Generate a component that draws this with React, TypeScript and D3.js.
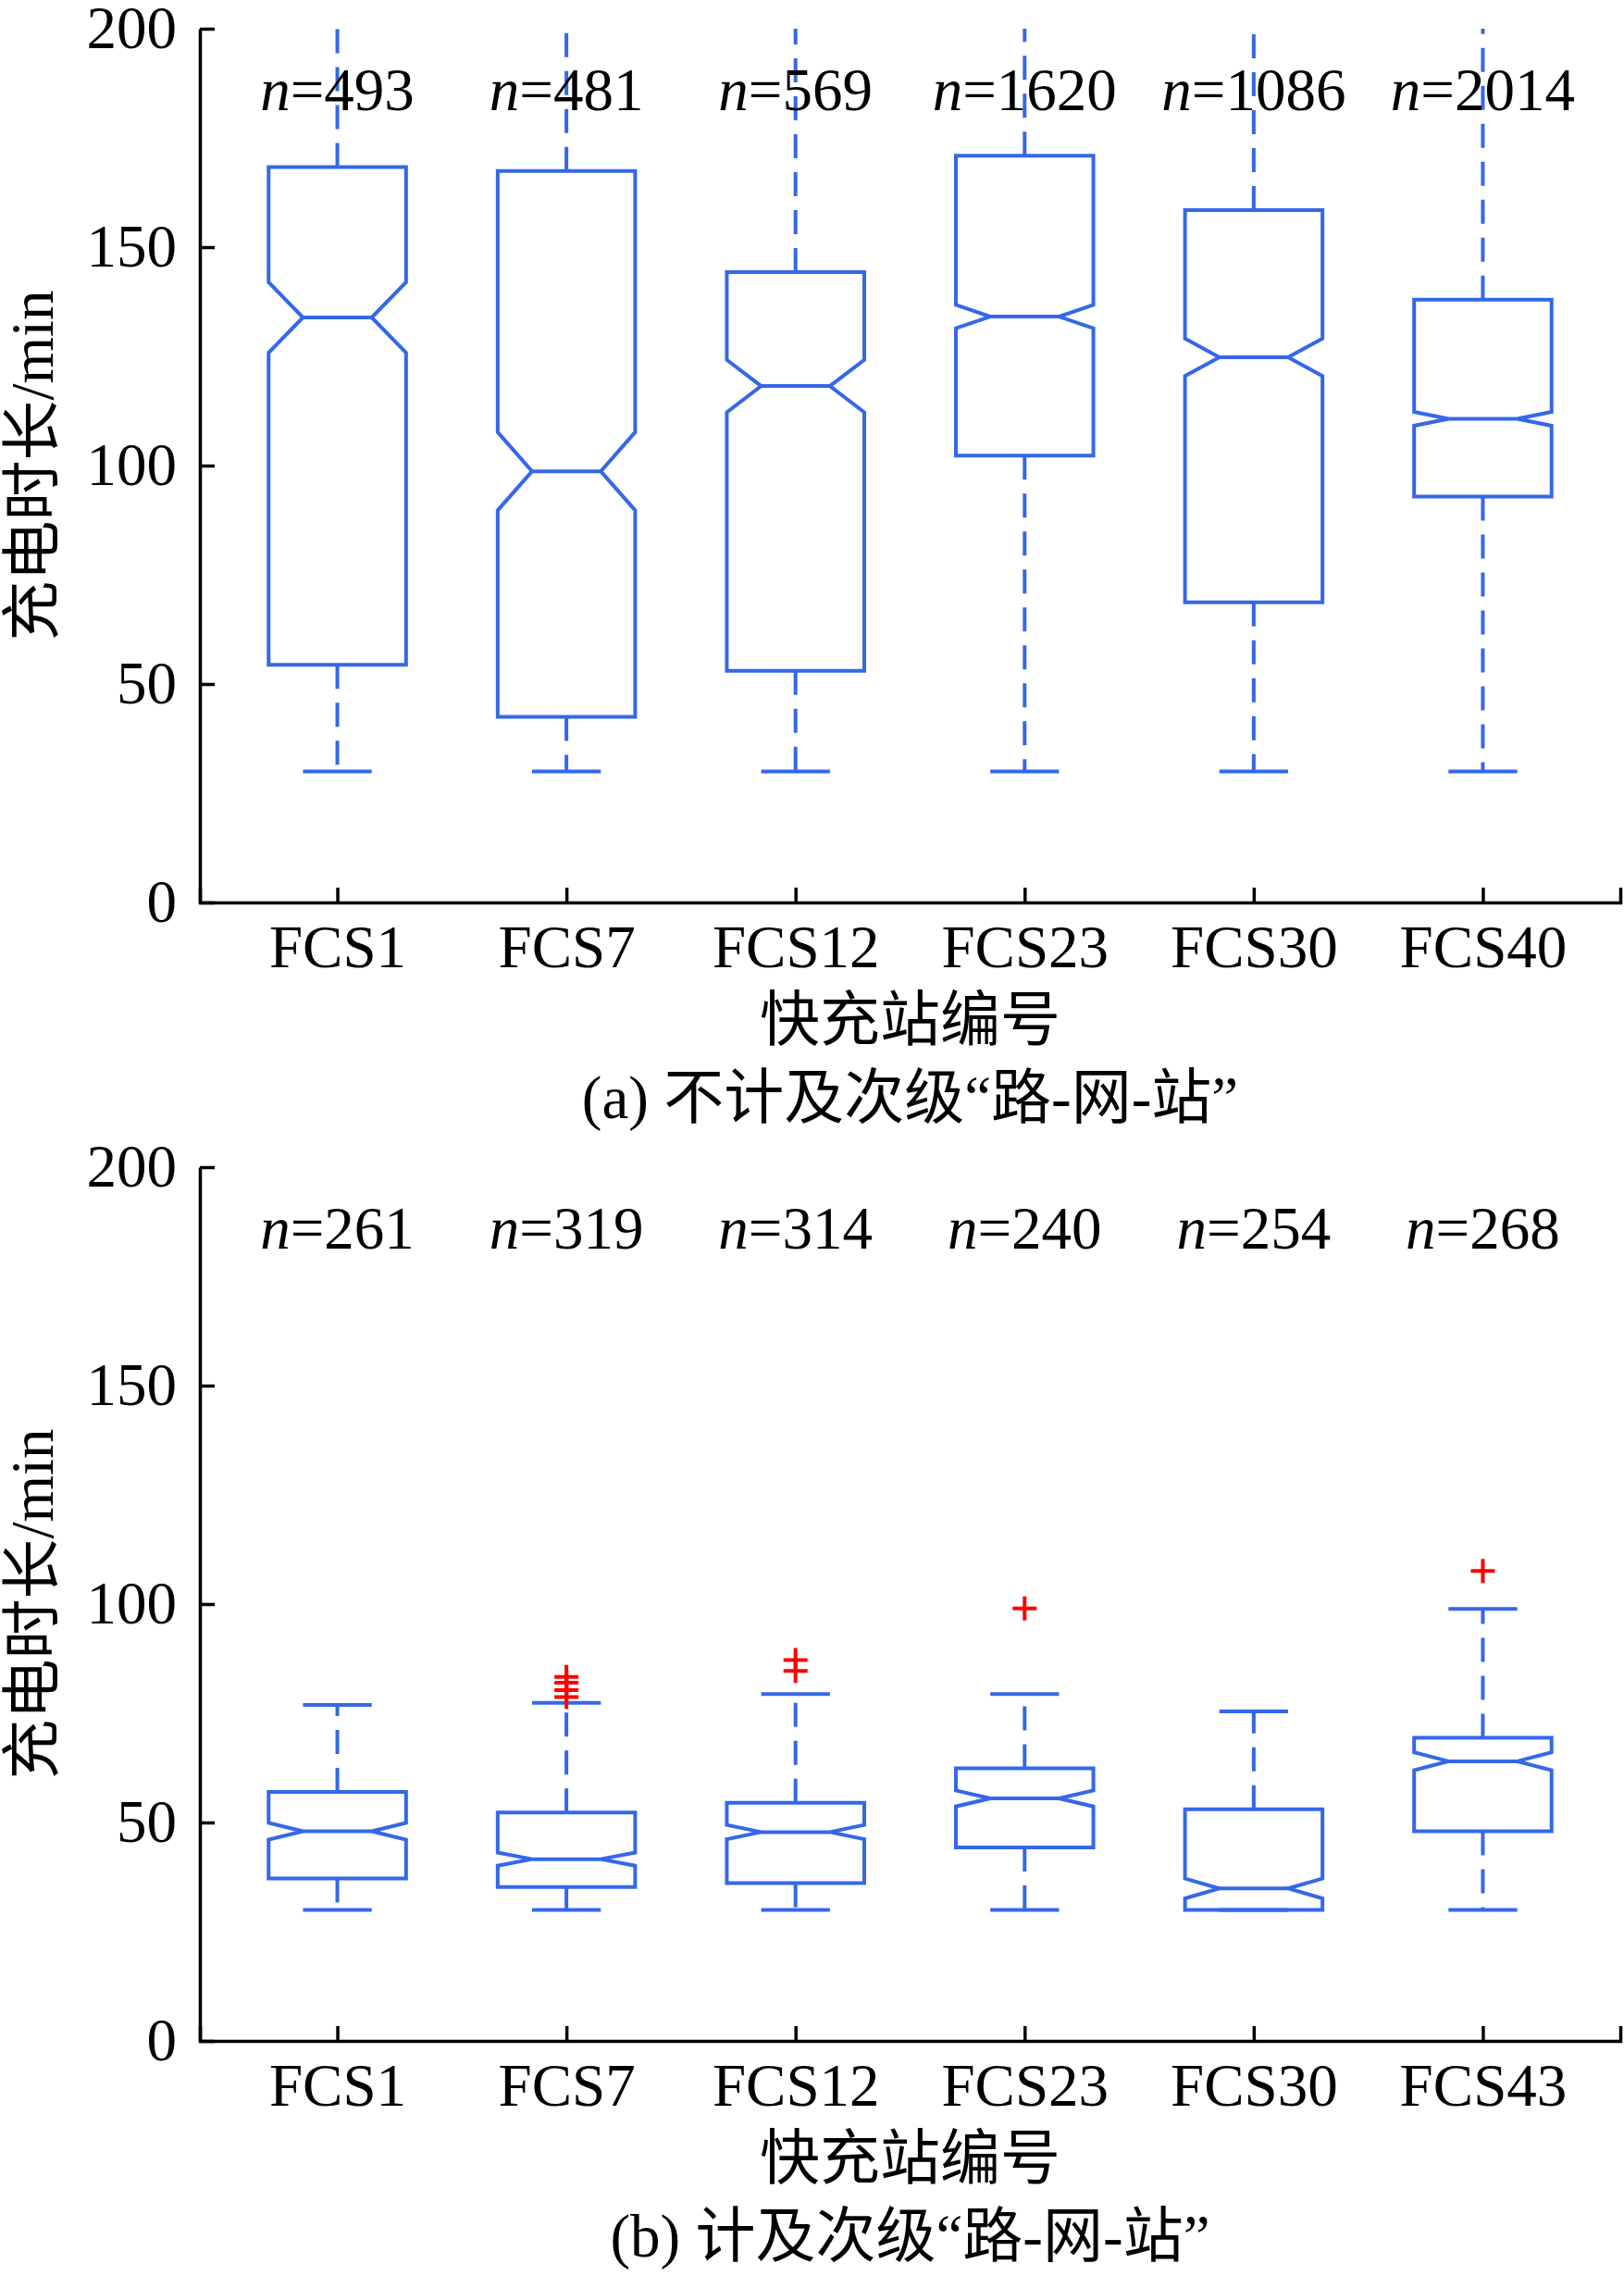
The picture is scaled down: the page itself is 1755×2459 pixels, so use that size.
import { useEffect, useRef } from 'react';
import * as d3 from 'd3';

// Panel (a): without secondary road-grid-station coupling
const stationsA = ['FCS1', 'FCS7', 'FCS12', 'FCS23', 'FCS30', 'FCS40'];
const countsA = [493, 481, 569, 1620, 1086, 2014];
const q1A = [54.4, 42.5, 53.0, 102.3, 68.7, 92.9];
const medianA = [133.9, 98.7, 118.2, 134.1, 124.8, 110.7];
const q3A = [168.3, 167.4, 144.3, 170.9, 158.5, 138.0];
const lowA = [30, 30, 30, 30, 30, 30];
const highA = [240, 240, 240, 240, 240, 240]; // whiskers run past the 200 limit
const outliersA: number[][] = [[], [], [], [], [], []];

// Panel (b): with secondary road-grid-station coupling
const stationsB = ['FCS1', 'FCS7', 'FCS12', 'FCS23', 'FCS30', 'FCS43'];
const countsB = [261, 319, 314, 240, 254, 268];
const q1B = [37.2, 35.2, 36.1, 44.3, 30.0, 48.0];
const medianB = [48.0, 41.6, 47.8, 55.5, 34.9, 64.0];
const q3B = [57.0, 52.3, 54.5, 62.4, 53.0, 69.4];
const lowB = [30, 30, 30, 30, 30, 30];
const highB = [76.9, 77.4, 79.4, 79.4, 75.4, 98.9];
const outliersB: number[][] = [[], [78.7, 80.3, 82.0, 83.3], [84.7, 87.2], [99.0], [], [107.6]];

const yTicks = [0, 50, 100, 150, 200];
const yLabel = '充电时长/min';
const xLabel = '快充站编号';
const captionA = '(a) 不计及次级“路-网-站”';
const captionB = '(b) 计及次级“路-网-站”';

const W = 1755;
const H = 2459;
const FONT = "'Liberation Serif', 'Times New Roman', 'Noto Sans CJK SC', serif";
const BLUE = '#3468e8';
const FS = 65;

interface PanelSpec {
    id: string;
    top: number;
    bottom: number;
    stations: string[];
    counts: number[];
    q1: number[];
    median: number[];
    q3: number[];
    low: number[];
    high: number[];
    outliers: number[][];
    caption: string;
}

const panels: PanelSpec[] = [
    {
        id: 'a', top: 31, bottom: 975, stations: stationsA, counts: countsA,
        q1: q1A, median: medianA, q3: q3A, low: lowA, high: highA,
        outliers: outliersA, caption: captionA,
    },
    {
        id: 'b', top: 1261, bottom: 2205, stations: stationsB, counts: countsB,
        q1: q1B, median: medianB, q3: q3B, low: lowB, high: highB,
        outliers: outliersB, caption: captionB,
    },
];

function drawPanel(svg: d3.Selection<SVGSVGElement, unknown, null, undefined>, p: PanelSpec) {
    const left = 216;
    const right = 1751;

    const x = d3.scaleLinear().domain([0.4, 6.6]).range([left, right]);
    const y = d3.scaleLinear().domain([0, 200]).range([p.bottom, p.top]);

    const g = svg.append('g');

    svg.select('defs')
        .append('clipPath')
        .attr('id', `clip-${p.id}`)
        .append('rect')
        .attr('x', left)
        .attr('y', p.top)
        .attr('width', right - left)
        .attr('height', p.bottom - p.top);

    const plot = g.append('g').attr('clip-path', `url(#clip-${p.id})`);

    const boxW = x(1.6) - x(1);
    const idx = d3.range(p.stations.length);

    idx.forEach((i) => {
        const cx = x(i + 1);
        const l = cx - boxW / 2;
        const r = cx + boxW / 2;
        const q = boxW / 4;
        // notch half-height: 1.57 * IQR / sqrt(n)
        const iqr = p.q3[i] - p.q1[i];
        const half = (1.57 * iqr) / Math.sqrt(p.counts[i]);
        const nLo = p.median[i] - half;
        const nHi = p.median[i] + half;

        // whiskers
        plot.append('line')
            .attr('x1', cx).attr('x2', cx)
            .attr('y1', y(p.q3[i])).attr('y2', y(p.high[i]))
            .attr('stroke', BLUE).attr('stroke-width', 4)
            .attr('stroke-dasharray', '26 15');
        plot.append('line')
            .attr('x1', cx).attr('x2', cx)
            .attr('y1', y(p.q1[i])).attr('y2', y(p.low[i]))
            .attr('stroke', BLUE).attr('stroke-width', 4)
            .attr('stroke-dasharray', '26 15');
        [p.high[i], p.low[i]].forEach((v) => {
            plot.append('line')
                .attr('x1', cx - q).attr('x2', cx + q)
                .attr('y1', y(v)).attr('y2', y(v))
                .attr('stroke', BLUE).attr('stroke-width', 4);
        });

        // notched box
        const pts: [number, number][] = [
            [l, y(p.q1[i])],
            [l, y(nLo)],
            [l + q, y(p.median[i])],
            [l, y(nHi)],
            [l, y(p.q3[i])],
            [r, y(p.q3[i])],
            [r, y(nHi)],
            [r - q, y(p.median[i])],
            [r, y(nLo)],
            [r, y(p.q1[i])],
        ];
        plot.append('path')
            .attr('d', d3.line()(pts) + 'Z')
            .attr('fill', 'none')
            .attr('stroke', BLUE)
            .attr('stroke-width', 4)
            .attr('stroke-linejoin', 'miter');
        plot.append('line')
            .attr('x1', l + q).attr('x2', r - q)
            .attr('y1', y(p.median[i])).attr('y2', y(p.median[i]))
            .attr('stroke', BLUE).attr('stroke-width', 4);

        // outliers
        p.outliers[i].forEach((v) => {
            plot.append('path')
                .attr('d', `M${cx - 13},${y(v)}H${cx + 13}M${cx},${y(v) - 13}V${y(v) + 13}`)
                .attr('stroke', '#ff0000')
                .attr('stroke-width', 4)
                .attr('fill', 'none');
        });

        // sample size
        const t = g.append('text')
            .attr('x', cx)
            .attr('y', y(181.4))
            .attr('text-anchor', 'middle')
            .attr('font-size', FS)
            .attr('font-family', FONT);
        t.append('tspan').attr('font-style', 'italic').text('n');
        t.append('tspan').text(`=${p.counts[i]}`);
    });

    // axes
    const styleAxis = (a: d3.Selection<SVGGElement, unknown, null, undefined>) => {
        a.select('.domain').attr('stroke', '#000').attr('stroke-width', 3.5);
        a.selectAll('.tick line').attr('stroke', '#000').attr('stroke-width', 3.5);
        a.selectAll('.tick text')
            .attr('fill', '#000')
            .attr('font-size', FS)
            .attr('font-family', FONT);
    };

    g.append('g')
        .attr('transform', `translate(0,${p.bottom})`)
        .call(
            d3.axisBottom(x)
                .tickValues(idx.map((i) => i + 1))
                .tickFormat((d) => p.stations[(d as number) - 1])
                .tickSizeInner(-16)
                .tickSizeOuter(-16)
                .tickPadding(24)
        )
        .call(styleAxis)
        .attr('font-family', FONT);

    g.append('g')
        .attr('transform', `translate(${left},0)`)
        .call(
            d3.axisLeft(y)
                .tickValues(yTicks)
                .tickSizeInner(-16)
                .tickSizeOuter(0)
                .tickPadding(25)
        )
        .call(styleAxis)
        .attr('font-family', FONT);

    // labels
    const midY = (p.top + p.bottom) / 2;
    g.append('text')
        .attr('transform', `translate(42,${midY}) rotate(-90)`)
        .attr('text-anchor', 'middle')
        .attr('dominant-baseline', 'middle')
        .attr('font-size', FS)
        .attr('font-family', FONT)
        .text(yLabel);

    const midX = (left + right) / 2;
    g.append('text')
        .attr('x', midX)
        .attr('y', p.bottom + 134)
        .attr('text-anchor', 'middle')
        .attr('dominant-baseline', 'middle')
        .attr('font-size', FS)
        .attr('font-family', FONT)
        .text(xLabel);

    g.append('text')
        .attr('x', midX)
        .attr('y', p.bottom + 218)
        .attr('text-anchor', 'middle')
        .attr('dominant-baseline', 'middle')
        .attr('font-size', FS)
        .attr('font-family', FONT)
        .text(p.caption);
}

export default function App() {
    const svgRef = useRef<SVGSVGElement>(null);

    useEffect(() => {
        if (!svgRef.current) return;
        const svg = d3.select(svgRef.current);
        svg.selectAll('*').remove();
        svg.append('defs');
        panels.forEach((p) => drawPanel(svg, p));
    }, []);

    return (
        <svg
            ref={svgRef}
            width={W}
            height={H}
            style={{ position: 'absolute', left: 0, top: 0, background: '#fff' }}
        />
    );
}
